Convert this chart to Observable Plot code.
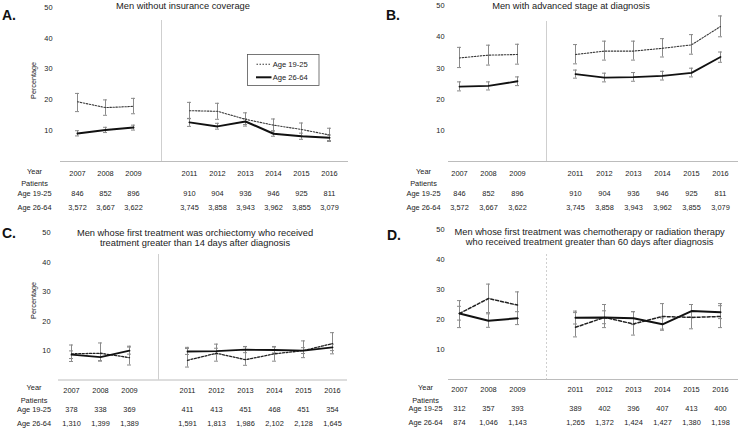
<!DOCTYPE html>
<html><head><meta charset="utf-8">
<script src="https://cdn.jsdelivr.net/npm/d3@7"></script>
<script src="https://cdn.jsdelivr.net/npm/@observablehq/plot@0.6"></script>
<style>
body{margin:0;background:#fff;}
#wrap{position:relative;width:740px;height:428px;overflow:hidden;font-family:"Liberation Sans",Arial,Helvetica,sans-serif;color:#222;background:#fff;}
.panel{position:absolute;width:370px;height:214px;}
.title{position:absolute;white-space:nowrap;font-size:9.3px;line-height:10px;transform:translate(-50%,-50%);text-align:center;color:#1a1a1a;}
.letter{position:absolute;font-size:14px;font-weight:bold;line-height:14px;transform:translateY(-50%);color:#111;}
#legend{position:absolute;left:247px;top:54px;}
</style></head><body><div id="wrap"></div>
<script>
// ---- shared categories / labels ----
const years = ["2007","2008","2009","2011","2012","2013","2014","2015","2016"];
const slots = ["2007","2008","2009","2010","2011","2012","2013","2014","2015","2016"];
const gapYear = ["2010"];
const yTicks = [10,20,30,40,50];
const rowLabels = ["Year","Patients","Age 19-25","Age 26-64"];
const seriesNames = ["Age 19-25","Age 26-64"];
const panelLetters = ["A.","B.","C.","D."];
const titlesA = ["Men without insurance coverage"];
const titlesB = ["Men with advanced stage at diagnosis"];
const titlesC = ["Men whose first treatment was orchiectomy who received","treatment greater than 14 days after diagnosis"];
const titlesD = ["Men whose first treatment was chemotherapy or radiation therapy","who received treatment greater than 60 days after diagnosis"];

// ---- Panel A: without insurance ----
const aYoung   = [19.4, 17.5, 17.9, 16.5, 16.3, 13.7, 11.8, 10.4, 8.6];
const aYoungLo = [16.2, 15.0, 15.5, 13.9, 13.7, 11.5, 9.6, 8.3, 6.5];
const aYoungHi = [22.1, 20.0, 20.5, 19.2, 18.9, 15.8, 13.8, 12.5, 10.8];
const aOld     = [9.1, 10.2, 11.0, 12.7, 11.4, 13.0, 9.0, 8.2, 7.7];
const aOldLo   = [8.3, 9.4, 10.2, 11.4, 10.5, 12.0, 8.2, 7.2, 6.8];
const aOldHi   = [10.0, 11.1, 11.8, 14.0, 12.4, 13.9, 10.0, 9.2, 8.6];
const aN1 = [846, 852, 896, 910, 904, 936, 946, 925, 811];
const aN2 = [3572, 3667, 3622, 3745, 3858, 3943, 3962, 3855, 3079];

// ---- Panel B: advanced stage ----
const bYoung   = [33.3, 34.2, 34.4, 34.4, 35.5, 35.5, 36.4, 37.5, 43.4];
const bYoungLo = [30.2, 31.0, 31.3, 31.4, 32.6, 32.6, 33.6, 34.5, 40.1];
const bYoungHi = [36.7, 37.4, 37.7, 37.6, 38.7, 38.7, 39.5, 40.8, 46.8];
const bOld     = [24.1, 24.3, 25.8, 28.1, 27.0, 27.1, 27.5, 28.5, 33.6];
const bOldLo   = [22.7, 23.0, 24.4, 26.8, 25.6, 25.8, 26.2, 27.2, 31.9];
const bOldHi   = [25.6, 25.6, 27.2, 29.4, 28.4, 28.6, 29.0, 30.0, 35.2];
const bN1 = [846, 852, 896, 910, 904, 936, 946, 925, 811];
const bN2 = [3572, 3667, 3622, 3745, 3858, 3943, 3962, 3855, 3079];

// ---- Panel C: orchiectomy > 14 days ----
const cYoung   = [8.9, 9.1, 7.6, 6.7, 9.1, 6.9, 8.9, 10.0, 12.4];
const cYoungLo = [6.3, 6.4, 5.1, 4.4, 6.4, 5.0, 6.4, 7.6, 8.9];
const cYoungHi = [11.9, 12.6, 11.5, 11.1, 12.2, 11.4, 11.4, 13.3, 16.1];
const cOld     = [8.6, 7.8, 10.0, 9.7, 9.8, 10.3, 10.2, 10.0, 11.1];
const cOldLo   = [7.3, 6.6, 8.8, 8.7, 8.8, 9.3, 9.2, 9.0, 10.0];
const cOldHi   = [9.9, 9.0, 11.2, 10.7, 10.8, 11.3, 11.2, 11.0, 12.2];
const cN1 = [378, 338, 369, 411, 413, 451, 468, 451, 354];
const cN2 = [1310, 1399, 1389, 1591, 1813, 1986, 2102, 2128, 1645];

// ---- Panel D: chemo/radiation > 60 days ----
const dYoung   = [22.0, 27.0, 24.8, 17.4, 20.7, 18.5, 21.0, 20.7, 21.0];
const dYoungLo = [17.3, 22.3, 20.3, 14.2, 17.3, 14.8, 16.8, 16.9, 17.3];
const dYoungHi = [26.3, 31.8, 29.2, 22.3, 25.0, 22.6, 25.3, 25.0, 25.3];
const dOld     = [22.0, 19.6, 20.4, 20.6, 20.7, 20.4, 18.4, 22.8, 22.4];
const dOldLo   = [19.8, 17.4, 18.3, 18.5, 18.6, 18.3, 16.4, 20.8, 20.3];
const dOldHi   = [24.4, 21.9, 22.6, 22.8, 22.9, 22.6, 20.5, 25.0, 24.6];
const dN1 = [312, 357, 393, 389, 402, 396, 407, 413, 400];
const dN2 = [874, 1046, 1143, 1265, 1372, 1424, 1427, 1380, 1198];

const FONT = '"Liberation Sans", Arial, Helvetica, sans-serif';
const fmt = d3.format(",");

function makePanel(p) {
  const young = years.map((yr, i) => ({year: yr, v: p.young[i], lo: p.youngLo[i], hi: p.youngHi[i], seg: yr < "2010" ? 0 : 1}));
  const old = years.map((yr, i) => ({year: yr, v: p.old[i], lo: p.oldLo[i], hi: p.oldHi[i], seg: yr < "2010" ? 0 : 1}));
  const bars = young.concat(old);
  const counts = years.map((yr, i) => ({year: yr, n1: p.n1[i], n2: p.n2[i]}));
  const errColor = "#8a8a8a";
  const marks = [
    Plot.ruleX(gapYear, {x: d => d, stroke: "#cfcfcf", strokeWidth: 1, insetTop: p.divInset, strokeDasharray: p.divDash}),
    Plot.ruleY([0], {stroke: "#bcbcbc", strokeWidth: 1}),
    Plot.ruleX(bars, {x: "year", y1: "lo", y2: "hi", stroke: errColor, strokeWidth: 1}),
    Plot.ruleY(bars, {x1: "year", x2: "year", y: "lo", stroke: errColor, strokeWidth: 1, insetLeft: -2, insetRight: -2}),
    Plot.ruleY(bars, {x1: "year", x2: "year", y: "hi", stroke: errColor, strokeWidth: 1, insetLeft: -2, insetRight: -2}),
    Plot.line(young, {x: "year", y: "v", z: "seg", stroke: p.youngColor, strokeWidth: p.youngW, strokeDasharray: p.youngDash}),
    Plot.line(old, {x: "year", y: "v", z: "seg", stroke: "#111", strokeWidth: p.oldW}),
    Plot.text(counts, {x: "year", frameAnchor: "bottom", dy: p.rowDy[2], text: d => fmt(d.n1), fill: "#222"}),
    Plot.text(counts, {x: "year", frameAnchor: "bottom", dy: p.rowDy[3], text: d => fmt(d.n2), fill: "#222"})
  ];
  rowLabels.forEach((lab, k) => {
    marks.push(Plot.text([lab], {frameAnchor: "bottom-left", textAnchor: "middle", dx: p.labelDx, dy: p.rowDy[k], text: d => d, fill: "#222"}));
  });
  if (p.ylabel) {
    marks.push(Plot.text([p.ylabel], {frameAnchor: "left", textAnchor: "middle", rotate: -90, dx: p.ylabelDx, dy: p.ylabelDy, text: d => d, fill: "#222", fontSize: 7.2}));
  }
  return Plot.plot({
    width: 370, height: 214,
    marginLeft: p.ml, marginRight: p.mr, marginTop: p.mt, marginBottom: p.mb,
    style: {fontFamily: FONT, fontSize: "7.4px", color: "#222", background: "transparent", overflow: "visible"},
    x: {type: "point", domain: slots, padding: 0, insetLeft: p.il, insetRight: p.ir,
        tickSize: 0, tickPadding: p.xpad, label: null, tickFormat: d => (gapYear.includes(d) ? "" : d)},
    y: {domain: [0, 50], ticks: yTicks, tickSize: 0, tickPadding: p.ypad, label: null},
    marks
  });
}

const panels = [
  {left: 0, top: 0, young: aYoung, youngLo: aYoungLo, youngHi: aYoungHi, old: aOld, oldLo: aOldLo, oldHi: aOldHi, n1: aN1, n2: aN2,
   ml: 60, mr: 22, mt: 7, mb: 53, il: 13, ir: 16, xpad: 9.5, ypad: 8, divInset: 13, divDash: null,
   rowDy: [12, 24.5, 34.5, 48], labelDx: -26, ylabel: "Percentage", ylabelDx: -27, ylabelDy: -4,
   youngColor: "#3a3a3a", youngW: 1.1, youngDash: "1.5,1.5", oldW: 2},
  {left: 370, top: 0, young: bYoung, youngLo: bYoungLo, youngHi: bYoungHi, old: bOld, oldLo: bOldLo, oldHi: bOldHi, n1: bN1, n2: bN2,
   ml: 78, mr: 2, mt: 5.5, mb: 53, il: 10, ir: 17, xpad: 9.5, ypad: 4, divInset: 15.5, divDash: null,
   rowDy: [12, 24, 34.8, 48], labelDx: -25, ylabel: null,
   youngColor: "#3a3a3a", youngW: 1.1, youngDash: "1.5,1.5", oldW: 1.8},
  {left: 0, top: 214, young: cYoung, youngLo: cYoungLo, youngHi: cYoungHi, old: cOld, oldLo: cOldLo, oldHi: cOldHi, n1: cN1, n2: cN2,
   ml: 58, mr: 23, mt: 18.5, mb: 48.5, il: 12, ir: 14, xpad: 7.5, ypad: 8, divInset: 21.5, divDash: null,
   rowDy: [10, 23, 31.5, 45.5], labelDx: -24.5, ylabel: "Percentage", ylabelDx: -25, ylabelDy: -6,
   youngColor: "#222", youngW: 1.3, youngDash: "2,1.6", oldW: 1.8},
  {left: 370, top: 214, young: dYoung, youngLo: dYoungLo, youngHi: dYoungHi, old: dOld, oldLo: dOldLo, oldHi: dOldHi, n1: dN1, n2: dN2,
   ml: 78, mr: 2, mt: 15, mb: 49, il: 10, ir: 18, xpad: 7.5, ypad: 4, divInset: 25, divDash: "2,2",
   rowDy: [10, 23, 31.5, 45.3], labelDx: -23, ylabel: null,
   youngColor: "#222", youngW: 1.5, youngDash: "3,2", oldW: 2}
];

const wrap = document.getElementById("wrap");
panels.forEach(p => {
  const div = document.createElement("div");
  div.className = "panel";
  div.style.left = p.left + "px";
  div.style.top = p.top + "px";
  div.appendChild(makePanel(p));
  wrap.appendChild(div);
});

// titles
function addTitle(lines, cx, cy) {
  const t = document.createElement("div");
  t.className = "title";
  t.style.left = cx + "px";
  t.style.top = cy + "px";
  t.innerHTML = lines.map(l => `<div>${l}</div>`).join("");
  wrap.appendChild(t);
}
addTitle(titlesA, 183, 6);
addTitle(titlesB, 571, 6);
addTitle(titlesC, 195, 238.3);
addTitle(titlesD, 589.6, 237.3);

// panel letters
[[panelLetters[0], 2, 15], [panelLetters[1], 386, 14.7], [panelLetters[2], 2, 233], [panelLetters[3], 387, 235]].forEach(([txt, x, y]) => {
  const l = document.createElement("div");
  l.className = "letter";
  l.style.left = x + "px";
  l.style.top = y + "px";
  l.textContent = txt;
  wrap.appendChild(l);
});

// legend (panel A)
const lg = d3.select(wrap).append("svg").attr("id", "legend").attr("width", 73).attr("height", 33);
lg.append("rect").attr("x", 0.5).attr("y", 0.5).attr("width", 71.5).attr("height", 31)
  .attr("fill", "white").attr("stroke", "#555").attr("stroke-width", 0.8);
lg.append("line").attr("x1", 9.5).attr("x2", 23).attr("y1", 10.3).attr("y2", 10.3)
  .attr("stroke", "#3a3a3a").attr("stroke-width", 1.1).attr("stroke-dasharray", "1.5,1.5");
lg.append("line").attr("x1", 9).attr("x2", 24.5).attr("y1", 23.3).attr("y2", 23.3)
  .attr("stroke", "#111").attr("stroke-width", 2);
seriesNames.forEach((s, i) => {
  lg.append("text").attr("x", 25.7).attr("y", i === 0 ? 10.3 : 23.3).attr("dy", "0.35em")
    .attr("font-family", FONT).attr("font-size", 7.6).attr("fill", "#222").text(s);
});
</script></body></html>
